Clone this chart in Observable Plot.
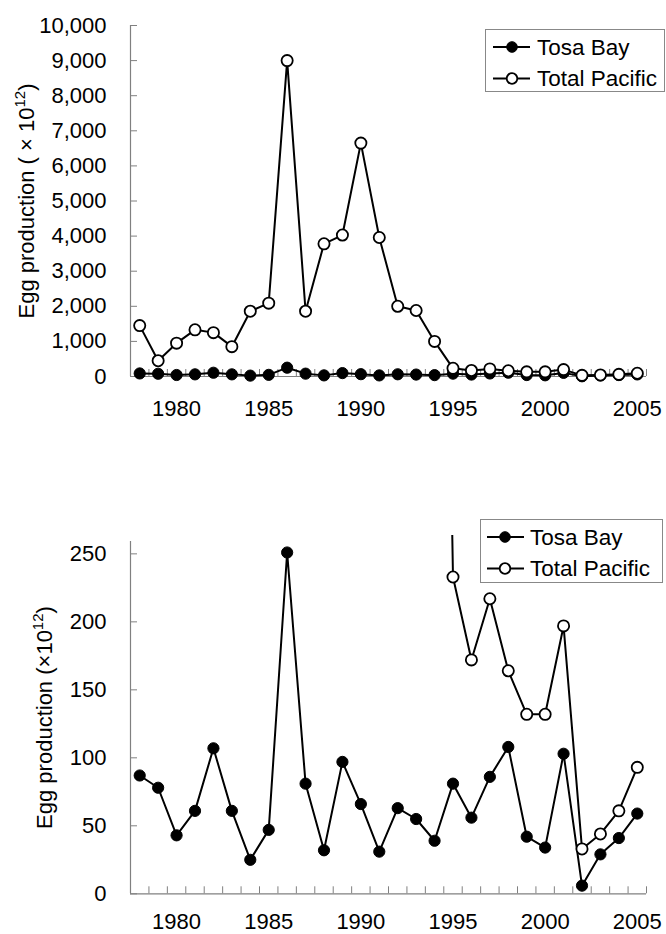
<!DOCTYPE html>
<html>
<head>
<meta charset="utf-8">
<script src="https://cdn.jsdelivr.net/npm/d3@7"></script>
<script src="https://cdn.jsdelivr.net/npm/@observablehq/plot@0.6"></script>
<style>
  html, body { margin: 0; padding: 0; background: #fff; }
  #wrap { position: relative; width: 666px; height: 934px; font-family: "Liberation Sans", Arial, sans-serif; }
  .panel { position: absolute; left: 0; }
  .legend { position: absolute; background: #fff; border: 1px solid #888; box-sizing: border-box; }
  .legend svg { display: block; }
</style>
</head>
<body>
<div id="wrap"></div>
<script>
// ---- data ----
const years = [1978, 1979, 1980, 1981, 1982, 1983, 1984, 1985, 1986, 1987, 1988, 1989, 1990, 1991,
               1992, 1993, 1994, 1995, 1996, 1997, 1998, 1999, 2000, 2001, 2002, 2003, 2004, 2005];
const tosaBay = [87, 78, 43, 61, 107, 61, 25, 47, 251, 81, 32, 97, 66, 31,
                 63, 55, 39, 81, 56, 86, 108, 42, 34, 103, 6, 29, 41, 59];
const totalPacific = [1450, 450, 950, 1330, 1250, 850, 1860, 2090, 9000, 1860, 3780, 4030, 6650, 3960,
                      2000, 1880, 1000, 233, 172, 217, 164, 132, 132, 197, 33, 44, 61, 93];
const xTickLabels = [1980, 1985, 1990, 1995, 2000, 2005];
const topYTicks = [0, 1000, 2000, 3000, 4000, 5000, 6000, 7000, 8000, 9000, 10000];
const bottomYTicks = [0, 50, 100, 150, 200, 250];
const seriesNames = ["Tosa Bay", "Total Pacific"];

// ---- config ----
const W = 666;
const xDomain = [1977.5, 2005.5];
const halfYearTicks = d3.range(xDomain[0], xDomain[1] + 0.01, 1);
const tosa = years.map((y, i) => ({year: y, value: tosaBay[i]}));
const total = years.map((y, i) => ({year: y, value: totalPacific[i]}));
const AX = "#808080";

function panel({height, marginTop, marginBottom, yDomain, yTicks, yFormat, yAxisTop, clip, xPad}) {
  return Plot.plot({
    width: W,
    height,
    marginLeft: 130,
    marginRight: 20,
    marginTop,
    marginBottom,
    style: {fontFamily: "'Liberation Sans', Arial, sans-serif", fontSize: "22px", color: "black", background: "white", overflow: "visible"},
    x: {domain: xDomain},
    y: {domain: yDomain},
    marks: [
      Plot.ruleY([0], {stroke: AX, strokeWidth: 1.2}),
      Plot.ruleX([xDomain[0]], {y1: 0, y2: yAxisTop, stroke: AX, strokeWidth: 1.2}),
      Plot.axisX({ticks: halfYearTicks, tickSize: -7, tickFormat: () => "", stroke: AX, label: null}),
      Plot.axisX({ticks: xTickLabels, tickSize: 0, tickPadding: xPad, tickFormat: d => String(d), fill: "black", label: null}),
      Plot.axisY({ticks: yTicks, tickSize: -7, tickPadding: 31, tickFormat: yFormat, stroke: AX, fill: "black", label: null}),
      Plot.line(tosa, {x: "year", y: "value", stroke: "black", strokeWidth: 2, clip}),
      Plot.dot(tosa, {x: "year", y: "value", r: 5.6, fill: "black", stroke: "black", strokeWidth: 1, clip}),
      Plot.line(total, {x: "year", y: "value", stroke: "black", strokeWidth: 2, clip}),
      Plot.dot(total, {x: "year", y: "value", r: 5.6, fill: "white", stroke: "black", strokeWidth: 1.8, clip})
    ]
  });
}

function addYLabel(svg, x, y, mid) {
  const t = d3.select(svg).append("text")
    .attr("transform", `translate(${x},${y}) rotate(-90)`)
    .attr("text-anchor", "middle")
    .attr("font-size", 22)
    .attr("font-family", "'Liberation Sans', Arial, sans-serif")
    .attr("fill", "black");
  t.append("tspan").text("Egg production " + mid);
  t.append("tspan").attr("font-size", 15).attr("dy", -9).text("12");
  t.append("tspan").attr("dy", 9).text(")");
}

function legend(left, topPx, width, height, lineX1, lineX2, cx, textX) {
  const div = document.createElement("div");
  div.className = "legend";
  Object.assign(div.style, {left: left + "px", top: topPx + "px", width: width + "px", height: height + "px"});
  const svg = d3.create("svg").attr("width", width - 2).attr("height", height - 2);
  const rows = [17, 48.5];
  seriesNames.forEach((name, i) => {
    const g = svg.append("g").attr("transform", `translate(0,${rows[i]})`);
    g.append("line").attr("x1", lineX1).attr("x2", lineX2).attr("stroke", "black").attr("stroke-width", 2);
    g.append("circle").attr("cx", cx).attr("r", 5.3)
      .attr("fill", i === 0 ? "black" : "white").attr("stroke", "black").attr("stroke-width", i === 0 ? 1 : 1.8);
    g.append("text").attr("x", textX).attr("dy", "0.35em").attr("font-size", 22.5)
      .attr("font-family", "'Liberation Sans', Arial, sans-serif").attr("fill", "black").text(name);
  });
  div.appendChild(svg.node());
  return div;
}

const wrap = document.getElementById("wrap");

// Top panel
const topPlot = panel({height: 450, marginTop: 25, marginBottom: 74, yDomain: [0, 10000], yTicks: topYTicks,
  yFormat: d3.format(","), yAxisTop: 10000, clip: false, xPad: 24});
topPlot.classList.add("panel");
topPlot.style.top = "0px";
addYLabel(topPlot, 33.5, 201, "( \u00d7 10");
wrap.appendChild(topPlot);
wrap.appendChild(legend(485, 29, 180, 63, 7, 44, 26, 51));

// Bottom panel
const botPlot = panel({height: 484, marginTop: 85, marginBottom: 40.7, yDomain: [0, 263.5], yTicks: bottomYTicks,
  yFormat: d => String(d), yAxisTop: 259, clip: true, xPad: 20});
botPlot.classList.add("panel");
botPlot.style.top = "450px";
addYLabel(botPlot, 51.5, 267.5, "(\u00d710");
wrap.appendChild(botPlot);
wrap.appendChild(legend(480, 519, 183, 64, 6, 43, 24, 49));
</script>
</body>
</html>
